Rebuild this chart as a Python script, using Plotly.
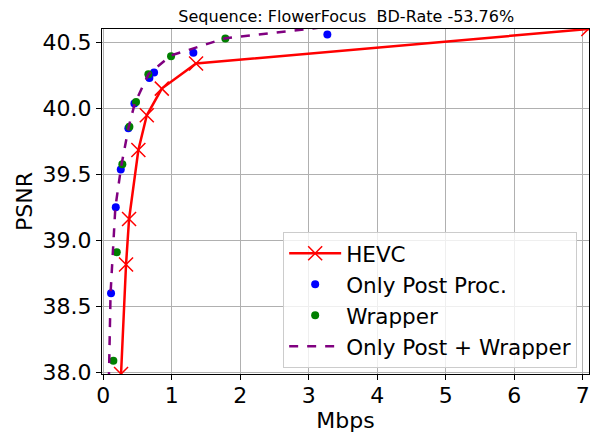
import plotly.graph_objects as go

# Data (Mbps, PSNR)
hevc_rate = [0.258, 0.331, 0.375, 0.511, 0.634, 0.853, 1.353, 7.08]
hevc_psnr = [37.99, 38.818, 39.162, 39.684, 39.947, 40.149, 40.339, 40.60]

post_rate = [0.112, 0.181, 0.254, 0.365, 0.453, 0.672, 0.740, 1.314, 3.27]
post_psnr = [38.600, 39.252, 39.538, 39.850, 40.036, 40.230, 40.270, 40.420, 40.558]

wrap_rate = [0.146, 0.196, 0.277, 0.380, 0.477, 0.657, 0.988, 1.781]
wrap_psnr = [38.090, 38.911, 39.576, 39.860, 40.048, 40.258, 40.394, 40.528]

comb_rate = [0.075, 0.105, 0.175, 0.260, 0.370, 0.460, 0.660, 0.990, 1.780, 4.00]
comb_psnr = [37.80, 38.60, 39.25, 39.56, 39.86, 40.04, 40.26, 40.40, 40.53, 40.66]

x_ticks = [0, 1, 2, 3, 4, 5, 6, 7]
y_ticks = [38.0, 38.5, 39.0, 39.5, 40.0, 40.5]

FONT = "DejaVu Sans"

fig = go.Figure()
fig.add_trace(go.Scatter(
    x=hevc_rate, y=hevc_psnr, mode="lines+markers", name="HEVC",
    line=dict(color="red", width=2.5),
    marker=dict(symbol="x-thin", size=14, color="red", line=dict(color="red", width=1.5)),
))
fig.add_trace(go.Scatter(
    x=post_rate, y=post_psnr, mode="markers", name="Only Post Proc.",
    marker=dict(symbol="circle", size=8, color="blue"),
))
fig.add_trace(go.Scatter(
    x=wrap_rate, y=wrap_psnr, mode="markers", name="Wrapper",
    marker=dict(symbol="circle", size=8, color="green"),
))
fig.add_trace(go.Scatter(
    x=comb_rate, y=comb_psnr, mode="lines", name="Only Post + Wrapper",
    line=dict(color="purple", width=2.5, dash="dash"),
))

axis_common = dict(
    showline=True, linecolor="black", linewidth=1, mirror=True,
    showgrid=True, gridcolor="#b0b0b0", gridwidth=1,
    ticks="outside", ticklen=5, tickcolor="black", tickwidth=1,
    tickfont=dict(family=FONT, size=22, color="black"),
    zeroline=False, automargin=False,
)

fig.update_layout(
    width=596, height=438,
    margin=dict(l=102, r=7, t=29, b=64),
    paper_bgcolor="white", plot_bgcolor="white",
    font=dict(family=FONT, color="black"),
    title=dict(text="Sequence: FlowerFocus  BD-Rate -53.76%",
               font=dict(family=FONT, size=16, color="black"),
               x=0.581, xanchor="center", y=0.962, yanchor="middle"),
    xaxis=dict(range=[-0.02, 7.09], tickvals=x_ticks, ticktext=[str(v) for v in x_ticks],
               title=dict(text="Mbps", font=dict(family=FONT, size=22), standoff=2),
               ticklabelstandoff=-3,
               **axis_common),
    yaxis=dict(range=[37.99, 40.60], tickvals=y_ticks, ticktext=[f"{v:.1f}" for v in y_ticks],
               title=dict(text="PSNR", font=dict(family=FONT, size=22), standoff=3),
               **axis_common),
    legend=dict(x=0.372, y=0.412, xanchor="left", yanchor="top",
                bgcolor="rgba(255,255,255,0.8)", bordercolor="#cccccc", borderwidth=1,
                font=dict(family=FONT, size=21.5, color="black"),
                itemwidth=52, tracegroupgap=0),
    showlegend=True,
)

fig.write_html("out.html", config={"displayModeBar": False},
               post_script="document.body.style.margin='0';document.body.style.overflow='hidden';")
